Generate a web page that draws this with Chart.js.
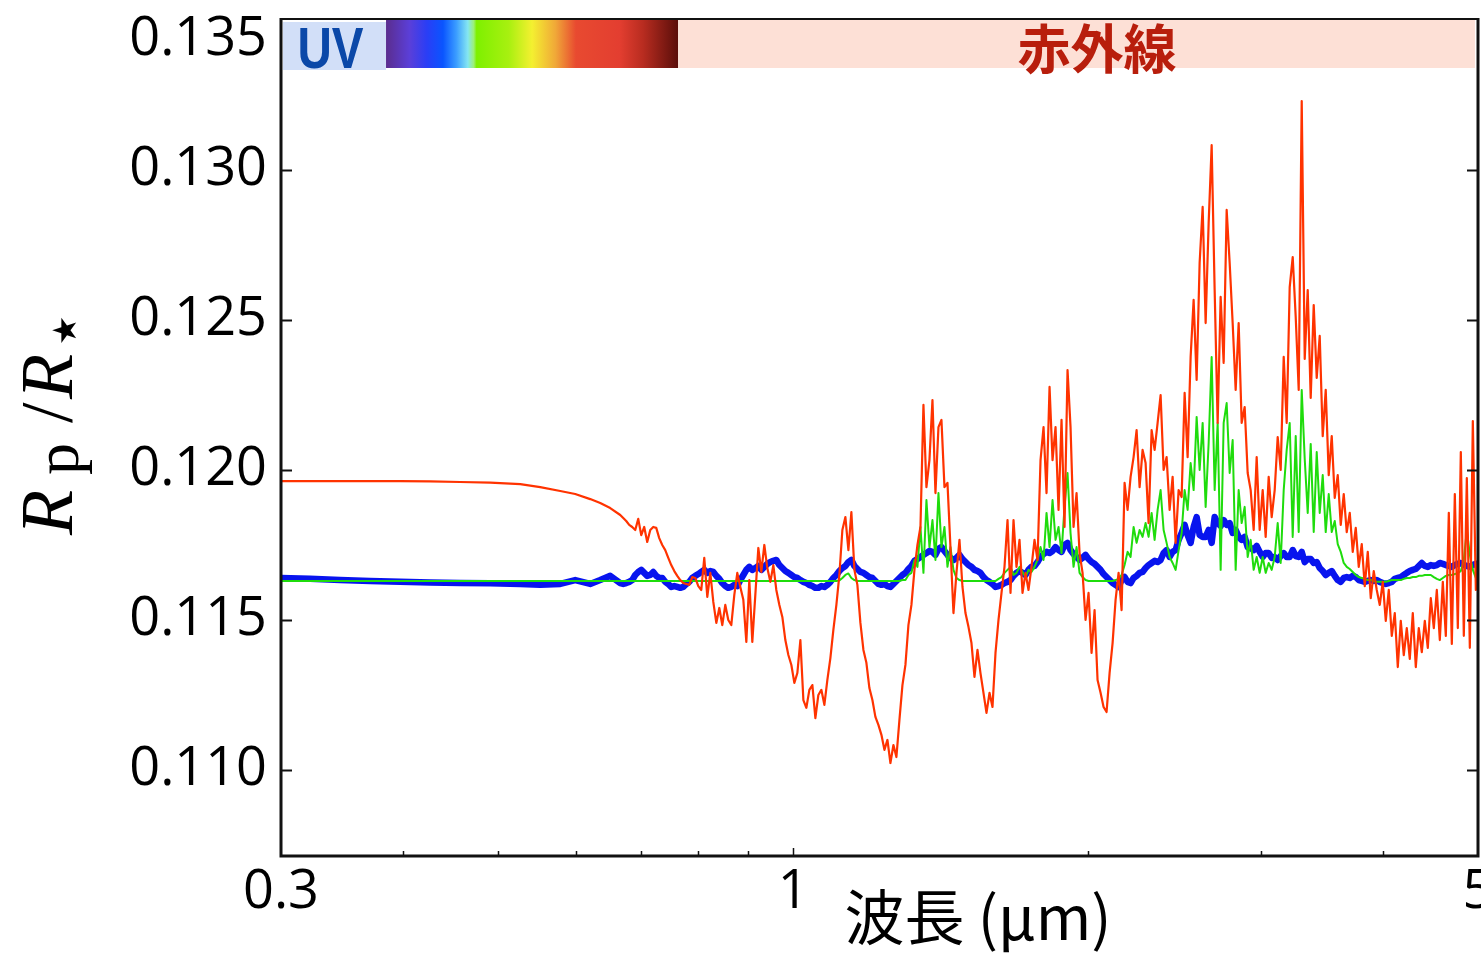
<!DOCTYPE html>
<html>
<head>
<meta charset="utf-8">
<script src="https://cdn.jsdelivr.net/npm/chart.js@4/dist/chart.umd.min.js"></script>
<style>
  html, body { margin: 0; padding: 0; background: #ffffff; }
  #wrap { width: 1481px; height: 959px; }
</style>
</head>
<body>
<div id="wrap"><canvas id="spectrum" width="1481" height="959"></canvas></div>
<script>
// Wavelength grid (µm) shared by the three transmission spectra
const wavelengthUm = [
  0.3000, 0.3212, 0.3447, 0.3699, 0.3969, 0.4259, 0.4571, 0.4905, 0.5264, 0.5517, 0.5783, 0.5990, 0.6205, 0.6353, 0.6504,
  0.6659, 0.6706, 0.6753, 0.6801, 0.6849, 0.6898, 0.6947, 0.6996, 0.7045, 0.7095,
  0.7146, 0.7196, 0.7247, 0.7298, 0.7350, 0.7402, 0.7455, 0.7507, 0.7561, 0.7614,
  0.7668, 0.7722, 0.7777, 0.7832, 0.7887, 0.7943, 0.8000, 0.8056, 0.8113, 0.8171,
  0.8229, 0.8287, 0.8346, 0.8405, 0.8464, 0.8524, 0.8584, 0.8645, 0.8706, 0.8768,
  0.8830, 0.8893, 0.8956, 0.9019, 0.9083, 0.9147, 0.9212, 0.9277, 0.9343, 0.9409,
  0.9476, 0.9543, 0.9610, 0.9679, 0.9747, 0.9816, 0.9886, 0.9956, 1.0026, 1.0097,
  1.0169, 1.0241, 1.0313, 1.0386, 1.0460, 1.0534, 1.0608, 1.0683, 1.0759, 1.0835,
  1.0912, 1.0989, 1.1067, 1.1145, 1.1224, 1.1304, 1.1384, 1.1464, 1.1546, 1.1627,
  1.1710, 1.1793, 1.1876, 1.1960, 1.2045, 1.2130, 1.2216, 1.2303, 1.2390, 1.2478,
  1.2566, 1.2655, 1.2744, 1.2835, 1.2926, 1.3017, 1.3109, 1.3202, 1.3296, 1.3390,
  1.3485, 1.3580, 1.3676, 1.3773, 1.3871, 1.3969, 1.4068, 1.4167, 1.4268, 1.4369,
  1.4470, 1.4573, 1.4676, 1.4780, 1.4885, 1.4990, 1.5096, 1.5203, 1.5311, 1.5419,
  1.5528, 1.5638, 1.5749, 1.5861, 1.5973, 1.6086, 1.6200, 1.6315, 1.6430, 1.6547,
  1.6664, 1.6782, 1.6900, 1.7020, 1.7141, 1.7262, 1.7384, 1.7507, 1.7631, 1.7756,
  1.7882, 1.8009, 1.8136, 1.8265, 1.8394, 1.8524, 1.8655, 1.8787, 1.8920, 1.9054,
  1.9189, 1.9325, 1.9462, 1.9600, 1.9739, 1.9878, 2.0019, 2.0161, 2.0304, 2.0447,
  2.0592, 2.0738, 2.0885, 2.1033, 2.1182, 2.1332, 2.1483, 2.1635, 2.1788, 2.1942,
  2.2098, 2.2254, 2.2412, 2.2571, 2.2730, 2.2891, 2.3053, 2.3217, 2.3381, 2.3547,
  2.3713, 2.3881, 2.4050, 2.4221, 2.4392, 2.4565, 2.4739, 2.4914, 2.5090, 2.5268,
  2.5447, 2.5627, 2.5809, 2.5991, 2.6176, 2.6361, 2.6548, 2.6736, 2.6925, 2.7116,
  2.7307, 2.7501, 2.7696, 2.7892, 2.8089, 2.8288, 2.8488, 2.8690, 2.8893, 2.9098,
  2.9304, 2.9511, 2.9720, 2.9931, 3.0143, 3.0356, 3.0571, 3.0788, 3.1006, 3.1225,
  3.1446, 3.1669, 3.1893, 3.2119, 3.2347, 3.2576, 3.2806, 3.3039, 3.3273, 3.3508,
  3.3745, 3.3984, 3.4225, 3.4467, 3.4711, 3.4957, 3.5205, 3.5454, 3.5705, 3.5958,
  3.6213, 3.6469, 3.6727, 3.6987, 3.7249, 3.7513, 3.7779, 3.8046, 3.8316, 3.8587,
  3.8860, 3.9135, 3.9412, 3.9691, 3.9973, 4.0256, 4.0541, 4.0828, 4.1117, 4.1408,
  4.1701, 4.1996, 4.2294, 4.2593, 4.2895, 4.3199, 4.3505, 4.3813, 4.4123, 4.4435,
  4.4750, 4.5067, 4.5386, 4.5707, 4.6031, 4.6357, 4.6685, 4.7016, 4.7349, 4.7684,
  4.8021, 4.8361, 4.8704, 4.9049, 4.9396, 4.9746, 5.0000
];

// Rp/R* — red spectrum
const rpRsRed = [
  0.11963, 0.11963, 0.11963, 0.11963, 0.11963, 0.11962, 0.11960, 0.11958, 0.11953, 0.11943, 0.11930, 0.11920, 0.11903, 0.11890, 0.11873,
  0.11850, 0.11840, 0.11830, 0.11817, 0.11810, 0.11800, 0.11837, 0.11783, 0.11810, 0.11760,
  0.11800, 0.11810, 0.11807, 0.11773, 0.11750, 0.11733, 0.11707, 0.11683, 0.11663, 0.11647,
  0.11633, 0.11623, 0.11620, 0.11617, 0.11643, 0.11640, 0.11613, 0.11600, 0.11707, 0.11577,
  0.11657, 0.11560, 0.11490, 0.11540, 0.11483, 0.11550, 0.11500, 0.11483, 0.11583, 0.11657,
  0.11610, 0.11567, 0.11427, 0.11633, 0.11427, 0.11583, 0.11740, 0.11660, 0.11750, 0.11673,
  0.11627, 0.11683, 0.11600, 0.11550, 0.11510, 0.11433, 0.11383, 0.11350, 0.11290, 0.11323,
  0.11433, 0.11233, 0.11207, 0.11267, 0.11283, 0.11173, 0.11250, 0.11267, 0.11217, 0.11300,
  0.11373, 0.11467, 0.11550, 0.11650, 0.11800, 0.11843, 0.11733, 0.11860, 0.11667, 0.11617,
  0.11490, 0.11400, 0.11357, 0.11273, 0.11233, 0.11177, 0.11150, 0.11117, 0.11067, 0.11100,
  0.11023, 0.11083, 0.11043, 0.11167, 0.11283, 0.11350, 0.11483, 0.11550, 0.11667, 0.11750,
  0.11810, 0.12217, 0.11943, 0.12033, 0.12233, 0.11923, 0.12143, 0.12167, 0.11943, 0.11957,
  0.11743, 0.11523, 0.11657, 0.11767, 0.11610, 0.11523, 0.11477, 0.11423, 0.11310, 0.11400,
  0.11323, 0.11257, 0.11190, 0.11257, 0.11210, 0.11390, 0.11500, 0.11590, 0.11677, 0.11833,
  0.11590, 0.11833, 0.11677, 0.11767, 0.11590, 0.11657, 0.11600, 0.11677, 0.11767, 0.11700,
  0.12033, 0.12143, 0.11923, 0.12277, 0.12033, 0.12143, 0.11867, 0.12167, 0.11810, 0.12333,
  0.12143, 0.11810, 0.11923, 0.11723, 0.11657, 0.11500, 0.11590, 0.11390, 0.11533, 0.11300,
  0.11257, 0.11210, 0.11193, 0.11323, 0.11423, 0.11567, 0.11657, 0.11533, 0.11957, 0.11867,
  0.11977, 0.12043, 0.12133, 0.11943, 0.12067, 0.12023, 0.11823, 0.12133, 0.12067, 0.12157,
  0.12250, 0.12000, 0.12043, 0.11867, 0.11977, 0.11757, 0.11933, 0.11910, 0.12257, 0.12043,
  0.12377, 0.12567, 0.12300, 0.12690, 0.12877, 0.12490, 0.12823, 0.13083, 0.12600, 0.12157,
  0.12577, 0.12357, 0.12867, 0.12690, 0.12490, 0.12267, 0.12490, 0.12157, 0.12210, 0.11990,
  0.11933, 0.11800, 0.12043, 0.11800, 0.11933, 0.11777, 0.11977, 0.11843, 0.11933, 0.12110,
  0.12000, 0.12377, 0.12157, 0.12610, 0.12710, 0.12510, 0.12267, 0.13230, 0.12370, 0.12600,
  0.12240, 0.12550, 0.12307, 0.12447, 0.12113, 0.12267, 0.11983, 0.12113, 0.11907, 0.11983,
  0.11817, 0.11920, 0.11793, 0.11857, 0.11727, 0.11807, 0.11677, 0.11753, 0.11613, 0.11727,
  0.11573, 0.11663, 0.11600, 0.11550, 0.11627, 0.11497, 0.11600, 0.11447, 0.11523, 0.11343,
  0.11497, 0.11383, 0.11473, 0.11370, 0.11523, 0.11343, 0.11473, 0.11393, 0.11497, 0.11407,
  0.11573, 0.11473, 0.11600, 0.11433, 0.11627, 0.11447, 0.11857, 0.11420, 0.11920, 0.11473,
  0.12060, 0.11447, 0.11973, 0.11407, 0.12163, 0.11600, 0.11700
];

// Rp/R* — green spectrum
const rpRsGreen = [
  0.11630, 0.11630, 0.11630, 0.11630, 0.11630, 0.11630, 0.11630, 0.11630, 0.11630, 0.11630, 0.11630, 0.11630, 0.11630, 0.11630, 0.11630,
  0.11630, 0.11630, 0.11630, 0.11630, 0.11630, 0.11630, 0.11630, 0.11630, 0.11630, 0.11630,
  0.11630, 0.11630, 0.11630, 0.11630, 0.11630, 0.11630, 0.11630, 0.11630, 0.11630, 0.11630,
  0.11630, 0.11630, 0.11630, 0.11630, 0.11630, 0.11630, 0.11630, 0.11630, 0.11630, 0.11630,
  0.11630, 0.11630, 0.11630, 0.11630, 0.11630, 0.11630, 0.11630, 0.11630, 0.11630, 0.11630,
  0.11630, 0.11630, 0.11630, 0.11630, 0.11630, 0.11630, 0.11630, 0.11630, 0.11630, 0.11630,
  0.11630, 0.11630, 0.11630, 0.11630, 0.11630, 0.11630, 0.11630, 0.11630, 0.11630, 0.11630,
  0.11630, 0.11630, 0.11630, 0.11630, 0.11630, 0.11630, 0.11630, 0.11630, 0.11630, 0.11630,
  0.11630, 0.11630, 0.11630, 0.11632, 0.11640, 0.11650, 0.11655, 0.11640, 0.11633, 0.11630,
  0.11630, 0.11630, 0.11630, 0.11630, 0.11630, 0.11630, 0.11630, 0.11630, 0.11630, 0.11630,
  0.11630, 0.11630, 0.11630, 0.11630, 0.11633, 0.11633, 0.11650, 0.11657, 0.11700, 0.11677,
  0.11810, 0.11657, 0.11900, 0.11743, 0.11833, 0.11700, 0.11923, 0.11743, 0.11810, 0.11677,
  0.11743, 0.11667, 0.11640, 0.11633, 0.11630, 0.11630, 0.11630, 0.11630, 0.11630, 0.11630,
  0.11630, 0.11630, 0.11630, 0.11630, 0.11630, 0.11630, 0.11637, 0.11643, 0.11657, 0.11667,
  0.11677, 0.11650, 0.11657, 0.11677, 0.11660, 0.11643, 0.11667, 0.11660, 0.11677, 0.11700,
  0.11743, 0.11700, 0.11857, 0.11743, 0.11900, 0.11767, 0.11810, 0.11723, 0.11877, 0.11990,
  0.11790, 0.11677, 0.11743, 0.11657, 0.11643, 0.11633, 0.11630, 0.11630, 0.11630, 0.11630,
  0.11630, 0.11630, 0.11630, 0.11630, 0.11630, 0.11633, 0.11637, 0.11650, 0.11683, 0.11727,
  0.11710, 0.11810, 0.11757, 0.11800, 0.11777, 0.11823, 0.11777, 0.11857, 0.11767, 0.11867,
  0.11933, 0.11800, 0.11757, 0.11710, 0.11690, 0.11667, 0.11733, 0.11790, 0.11933, 0.11867,
  0.12023, 0.11933, 0.12177, 0.12000, 0.12157, 0.11877, 0.12090, 0.12377, 0.11933, 0.12157,
  0.11667, 0.12157, 0.12223, 0.11990, 0.12100, 0.11667, 0.11933, 0.11823, 0.11877, 0.11710,
  0.11767, 0.11667, 0.11710, 0.11657, 0.11710, 0.11657, 0.11690, 0.11667, 0.11710, 0.11823,
  0.11690, 0.11933, 0.12067, 0.12157, 0.11777, 0.12113, 0.11793, 0.12267, 0.12037, 0.11857,
  0.12087, 0.11793, 0.12060, 0.11857, 0.11983, 0.11793, 0.11920, 0.11793, 0.11830, 0.11753,
  0.11727, 0.11690, 0.11677, 0.11670, 0.11660, 0.11650, 0.11643, 0.11640, 0.11637, 0.11633,
  0.11633, 0.11630, 0.11627, 0.11627, 0.11627, 0.11627, 0.11630, 0.11633, 0.11633, 0.11633,
  0.11633, 0.11637, 0.11640, 0.11640, 0.11643, 0.11643, 0.11647, 0.11647, 0.11650, 0.11650,
  0.11650, 0.11643, 0.11637, 0.11633, 0.11640, 0.11647, 0.11650, 0.11650, 0.11653, 0.11657,
  0.11663, 0.11700, 0.11800, 0.11717, 0.11667, 0.11640, 0.11647
];

// Rp/R* — blue spectrum
const rpRsBlue = [
  0.11640, 0.11637, 0.11633, 0.11630, 0.11627, 0.11625, 0.11623, 0.11622, 0.11620, 0.11617, 0.11620, 0.11633, 0.11620, 0.11633, 0.11647,
  0.11623, 0.11620, 0.11623, 0.11627, 0.11633, 0.11650, 0.11660, 0.11667, 0.11657, 0.11647,
  0.11650, 0.11660, 0.11647, 0.11640, 0.11640, 0.11627, 0.11620, 0.11610, 0.11613, 0.11610,
  0.11607, 0.11610, 0.11620, 0.11627, 0.11640, 0.11647, 0.11653, 0.11660, 0.11667, 0.11657,
  0.11663, 0.11660, 0.11647, 0.11637, 0.11623, 0.11613, 0.11607, 0.11610, 0.11617, 0.11613,
  0.11633, 0.11650, 0.11667, 0.11677, 0.11667, 0.11673, 0.11680, 0.11667, 0.11677, 0.11687,
  0.11693, 0.11697, 0.11700, 0.11683, 0.11673, 0.11663, 0.11657, 0.11650, 0.11643, 0.11640,
  0.11633, 0.11627, 0.11623, 0.11617, 0.11613, 0.11607, 0.11607, 0.11613, 0.11610, 0.11617,
  0.11627, 0.11640, 0.11650, 0.11663, 0.11673, 0.11680, 0.11693, 0.11700, 0.11680, 0.11670,
  0.11660, 0.11657, 0.11650, 0.11643, 0.11640, 0.11630, 0.11620, 0.11617, 0.11620, 0.11613,
  0.11610, 0.11620, 0.11630, 0.11640, 0.11650, 0.11657, 0.11670, 0.11680, 0.11697, 0.11703,
  0.11710, 0.11717, 0.11723, 0.11730, 0.11727, 0.11717, 0.11737, 0.11743, 0.11730, 0.11717,
  0.11707, 0.11700, 0.11707, 0.11717, 0.11703, 0.11693, 0.11683, 0.11677, 0.11667, 0.11663,
  0.11657, 0.11643, 0.11633, 0.11627, 0.11620, 0.11610, 0.11613, 0.11617, 0.11623, 0.11627,
  0.11633, 0.11647, 0.11657, 0.11663, 0.11657, 0.11650, 0.11667, 0.11677, 0.11680, 0.11693,
  0.11710, 0.11720, 0.11727, 0.11723, 0.11730, 0.11743, 0.11733, 0.11727, 0.11750, 0.11757,
  0.11733, 0.11720, 0.11710, 0.11700, 0.11707, 0.11717, 0.11703, 0.11693, 0.11687, 0.11677,
  0.11667, 0.11653, 0.11643, 0.11633, 0.11623, 0.11617, 0.11610, 0.11633, 0.11643, 0.11627,
  0.11623, 0.11640, 0.11647, 0.11657, 0.11660, 0.11673, 0.11683, 0.11690, 0.11697, 0.11693,
  0.11700, 0.11723, 0.11733, 0.11710, 0.11727, 0.11733, 0.11767, 0.11790, 0.11817, 0.11783,
  0.11757, 0.11810, 0.11843, 0.11783, 0.11777, 0.11777, 0.11800, 0.11757, 0.11843, 0.11823,
  0.11813, 0.11833, 0.11817, 0.11823, 0.11790, 0.11800, 0.11777, 0.11767, 0.11777, 0.11743,
  0.11740, 0.11733, 0.11747, 0.11727, 0.11710, 0.11723, 0.11723, 0.11707, 0.11710, 0.11700,
  0.11713, 0.11723, 0.11710, 0.11710, 0.11733, 0.11713, 0.11710, 0.11727, 0.11693, 0.11703,
  0.11703, 0.11690, 0.11693, 0.11673, 0.11663, 0.11650, 0.11657, 0.11663, 0.11647, 0.11633,
  0.11627, 0.11640, 0.11643, 0.11640, 0.11647, 0.11643, 0.11633, 0.11630, 0.11627, 0.11630,
  0.11633, 0.11630, 0.11633, 0.11627, 0.11623, 0.11620, 0.11623, 0.11627, 0.11637, 0.11640,
  0.11643, 0.11650, 0.11657, 0.11663, 0.11667, 0.11670, 0.11680, 0.11690, 0.11680, 0.11677,
  0.11683, 0.11680, 0.11683, 0.11690, 0.11687, 0.11683, 0.11680, 0.11677, 0.11683, 0.11687,
  0.11690, 0.11683, 0.11680, 0.11677, 0.11683, 0.11687, 0.11683
];

// Axis ticks and labels
const yTickValues = [0.110, 0.115, 0.120, 0.125, 0.130, 0.135];
const xTickValues = [0.3, 0.4, 0.5, 0.6, 0.7, 0.8, 0.9, 1, 2, 3, 4, 5];
const xTickLabels = ['0.3', '', '', '', '', '', '', '1', '', '', '', '5'];

// Spectral band edges (µm) for the strip along the top
const uvStartUm = 0.3;
const visibleStartUm = 0.384;
const infraredStartUm = 0.763;
const infraredEndUm = 4.964;
const uvLabel = 'UV';
const infraredLabel = '赤外線';
const xAxisTitle = '波長 (µm)';

function toPoints(values) {
  return wavelengthUm.map((w, i) => ({ x: w, y: values[i] }));
}

const decorations = {
  id: 'decorations',
  beforeDatasetsDraw(chart) {
    const ctx = chart.ctx;
    const xs = chart.scales.x;
    const top = chart.chartArea.top;
    const xUv = xs.getPixelForValue(uvStartUm) + 2;
    const xVis = xs.getPixelForValue(visibleStartUm);
    const xIr = xs.getPixelForValue(infraredStartUm);
    const xEnd = xs.getPixelForValue(infraredEndUm);
    ctx.save();
    // UV box
    ctx.fillStyle = '#d2dff8';
    ctx.fillRect(xUv, top + 4, xVis - xUv, 48);
    // visible rainbow
    const g = ctx.createLinearGradient(xVis, 0, xIr, 0);
    const stops = [
      [0.00, '#5b2d8e'], [0.08, '#5b3fd8'], [0.14, '#2a3ef6'], [0.195, '#0a55ff'],
      [0.24, '#3a9cff'], [0.28, '#84e6f2'], [0.30, '#9cf07a'], [0.31, '#7ef000'],
      [0.42, '#a8f010'], [0.50, '#f4f030'], [0.58, '#f0a838'], [0.65, '#e84a30'],
      [0.80, '#e33e30'], [0.88, '#b82c20'], [1.00, '#5a0e0a']
    ];
    stops.forEach(s => g.addColorStop(s[0], s[1]));
    ctx.fillStyle = g;
    ctx.fillRect(xVis, top + 2, xIr - xVis, 48);
    // infrared band
    ctx.fillStyle = '#fde0d6';
    ctx.fillRect(xIr, top + 2, xEnd - xIr, 48);
    // band labels
    ctx.fillStyle = '#0b48a8';
    ctx.textAlign = 'center';
    ctx.textBaseline = 'alphabetic';
    ctx.save();
    ctx.translate((xUv + xVis) / 2 - 4, top + 50);
    ctx.scale(0.82, 1);
    ctx.font = 'bold 58px "Liberation Sans", Arial, sans-serif';
    ctx.fillText(uvLabel, 0, 0);
    ctx.restore();
    ctx.fillStyle = '#b81e0c';
    ctx.font = 'bold 53px "Noto Sans CJK JP", sans-serif';
    ctx.textBaseline = 'middle';
    ctx.fillText(infraredLabel, 1097, top + 31);
    ctx.restore();
  },
  afterDraw(chart) {
    const ctx = chart.ctx;
    const a = chart.chartArea;
    const xs = chart.scales.x;
    const ys = chart.scales.y;
    ctx.save();
    ctx.strokeStyle = '#111111';
    // inward ticks on the y axes
    ctx.lineWidth = 2;
    yTickValues.forEach(v => {
      const y = Math.round(ys.getPixelForValue(v)) + 0.5;
      if (y < a.top + 50) return;
      ctx.beginPath();
      ctx.moveTo(a.left, y); ctx.lineTo(a.left + 11, y);
      ctx.moveTo(a.right - 11, y); ctx.lineTo(a.right, y);
      ctx.stroke();
    });
    // inward ticks on the x axis
    ctx.lineWidth = 1.5;
    xTickValues.forEach(v => {
      const x = Math.round(xs.getPixelForValue(v)) + 0.5;
      if (x <= a.left + 2 || x >= a.right - 2) return;
      const len = v === 1 ? 8 : 5;
      ctx.beginPath();
      ctx.moveTo(x, a.bottom); ctx.lineTo(x, a.bottom - len);
      ctx.stroke();
    });
    // frame
    ctx.lineWidth = 3;
    ctx.beginPath();
    ctx.moveTo(a.left, a.top); ctx.lineTo(a.left, a.bottom);
    ctx.lineTo(a.right, a.bottom); ctx.lineTo(a.right, a.top);
    ctx.stroke();
    ctx.lineWidth = 2;
    ctx.beginPath();
    ctx.moveTo(a.left, a.top + 1); ctx.lineTo(a.right, a.top + 1);
    ctx.stroke();

    // x-axis title
    ctx.fillStyle = '#000000';
    ctx.font = '60px "Noto Sans CJK JP", sans-serif';
    ctx.textAlign = 'center';
    ctx.textBaseline = 'alphabetic';
    ctx.fillText(xAxisTitle, 978, 940);

    // y-axis title: R_p / R_⋆
    ctx.save();
    ctx.translate(72, 535);
    ctx.rotate(-Math.PI / 2);
    ctx.textAlign = 'left';
    ctx.textBaseline = 'alphabetic';
    ctx.font = 'italic 74px "Liberation Serif", "DejaVu Serif", serif';
    ctx.fillText('R', 0, 0);
    ctx.font = '64px "Liberation Serif", "DejaVu Serif", serif';
    ctx.fillText('p', 60, 6);
    ctx.font = '74px "Liberation Serif", "DejaVu Serif", serif';
    ctx.fillText('/', 112, 0);
    ctx.font = 'italic 74px "Liberation Serif", "DejaVu Serif", serif';
    ctx.fillText('R', 136, 0);
    ctx.font = '66px "DejaVu Sans", sans-serif';
    ctx.fillText('⋆', 184, 14);
    ctx.restore();
    ctx.restore();
  }
};

new Chart(document.getElementById('spectrum'), {
  type: 'line',
  data: {
    datasets: [
      { label: 'red', data: toPoints(rpRsRed), borderColor: '#ff3300', borderWidth: 2.2 },
      { label: 'green', data: toPoints(rpRsGreen), borderColor: '#1fdc0c', borderWidth: 2 },
      { label: 'blue', data: toPoints(rpRsBlue), borderColor: '#0814ee', borderWidth: 6.5, borderCapStyle: 'round' }
    ]
  },
  options: {
    responsive: false,
    animation: false,
    devicePixelRatio: 1,
    layout: { padding: { left: 0, top: 18, right: 3, bottom: 0 } },
    elements: {
      point: { radius: 0 },
      line: { tension: 0, borderJoinStyle: 'round', fill: false }
    },
    plugins: { legend: { display: false }, tooltip: { enabled: false } },
    scales: {
      x: {
        type: 'logarithmic',
        position: 'bottom',
        min: 0.3,
        max: 5,
        afterBuildTicks: s => { s.ticks = xTickValues.map(v => ({ value: v })); },
        afterFit: s => { s.height = 103; s.paddingLeft = 0; s.paddingRight = 0; },
        grid: { display: false, drawTicks: false },
        border: { display: false },
        ticks: {
          autoSkip: false, maxRotation: 0, minRotation: 0, padding: 4,
          color: '#000000',
          font: { family: '"Open Sans", sans-serif', size: 54 },
          callback: (v, i) => xTickLabels[i]
        }
      },
      y: {
        position: 'left',
        min: 0.10713,
        max: 0.13507,
        afterBuildTicks: s => { s.ticks = yTickValues.map(v => ({ value: v })); },
        afterFit: s => { s.width = 281; s.paddingTop = 0; s.paddingBottom = 0; },
        grid: { display: false, drawTicks: false },
        border: { display: false },
        ticks: {
          padding: 14,
          color: '#000000',
          font: c => ({
            family: '"Open Sans", sans-serif',
            size: 54,
            lineHeight: (c.tick && c.tick.value === 0.135) ? 0.74 : 1.2
          }),
          callback: v => (v === 0.135 ? ['', v.toFixed(3)] : v.toFixed(3))
        }
      }
    }
  },
  plugins: [decorations]
});
</script>
</body>
</html>
